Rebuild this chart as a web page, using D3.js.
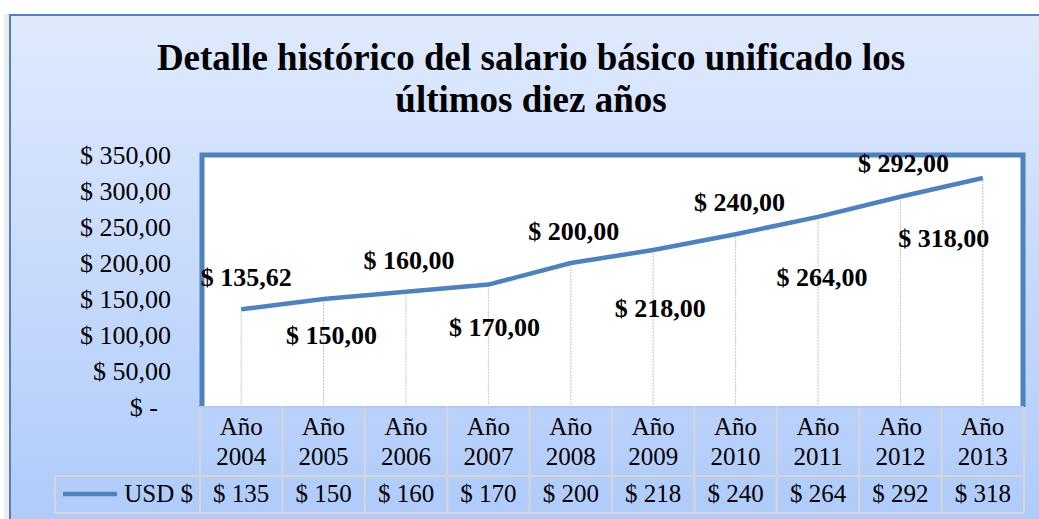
<!DOCTYPE html>
<html>
<head>
<meta charset="utf-8">
<script src="https://cdn.jsdelivr.net/npm/d3@7"></script>
<style>
  body { margin: 0; background: #fff; }
  svg { display: block; font-family: "Liberation Serif", "Times New Roman", serif; }
</style>
</head>
<body>
<script>
  var width = 1039;
  var height = 519;

  // chart data
  var years = ["2004", "2005", "2006", "2007", "2008", "2009", "2010", "2011", "2012", "2013"];
  var salary = [135.62, 150, 160, 170, 200, 218, 240, 264, 292, 318];
  var tableValues = ["$ 135", "$ 150", "$ 160", "$ 170", "$ 200", "$ 218", "$ 240", "$ 264", "$ 292", "$ 318"];
  var yTicks = [0, 50, 100, 150, 200, 250, 300, 350];
  var seriesName = "USD $";
  var titleLines = ["Detalle histórico del salario básico unificado los", "últimos diez años"];

  // hand placed data labels (offset from the point, px)
  var labelDx = [5, 8, 3, 6, 3, 7, 4, 4, 3, -39];
  var labelDy = [-32, 36, -32, 42, -32, 58, -32, 60, -34, 60];

  var blue = "#4f81bd";
  var grid = "#d6d6d6";

  var svg = d3.select("body").append("svg")
    .attr("width", width)
    .attr("height", height);

  var defs = svg.append("defs");
  var grad = defs.append("linearGradient")
    .attr("id", "bg")
    .attr("x1", 0).attr("y1", 0).attr("x2", 0).attr("y2", 1);
  grad.append("stop").attr("offset", "0%").attr("stop-color", "#e0eafd");
  grad.append("stop").attr("offset", "100%").attr("stop-color", "#aecafa");

  // soft shadow on the left of the frame
  svg.append("rect")
    .attr("x", 4).attr("y", 14).attr("width", 6).attr("height", height)
    .attr("fill", "#ececec");

  // outer chart frame
  svg.append("rect")
    .attr("x", 10).attr("y", 15)
    .attr("width", width + 20).attr("height", height)
    .attr("fill", "url(#bg)")
    .attr("stroke", blue)
    .attr("stroke-width", 2);

  // title
  svg.append("text")
    .attr("x", 531)
    .attr("y", 70)
    .attr("text-anchor", "middle")
    .attr("font-family", "Liberation Serif, serif")
    .attr("font-size", 37)
    .attr("font-weight", "bold")
    .selectAll("tspan")
    .data(titleLines)
    .enter()
    .append("tspan")
    .attr("x", 531)
    .attr("dy", function(d, i){ return i === 0 ? 0 : 42; })
    .text(function(d){ return d; });

  var plotLeft = 200, plotRight = 1024, plotTop = 155, plotBottom = 407;

  var x = d3.scaleBand()
    .domain(years)
    .range([plotLeft, plotRight]);

  var y = d3.scaleLinear()
    .domain([0, 350])
    .range([plotBottom, plotTop]);

  // plot area
  svg.append("rect")
    .attr("x", plotLeft + 2).attr("y", plotTop)
    .attr("width", plotRight - plotLeft - 2).attr("height", plotBottom - plotTop)
    .attr("fill", "#fff");

  svg.append("path")
    .attr("d", "M" + (plotLeft + 2) + "," + plotBottom + "V" + plotTop + "H" + (plotRight - 1) + "V" + plotBottom)
    .attr("fill", "none")
    .attr("stroke", blue)
    .attr("stroke-width", 5);

  // y axis
  var yAxis = d3.axisLeft(y)
    .tickValues(yTicks)
    .tickSize(0)
    .tickPadding(29)
    .tickFormat(function(d){
      return d === 0 ? "$ -\u00a0\u00a0" : "$ " + d3.format(".2f")(d).replace(".", ",");
    });

  var ya = svg.append("g")
    .attr("transform", "translate(" + plotLeft + ",0)")
    .call(yAxis);
  ya.select(".domain").remove();
  ya.selectAll("text")
    .attr("font-family", "Liberation Serif, serif")
    .attr("font-size", 26)
    .attr("fill", "#000");

  var pts = years.map(function(yr, i){
    return { year: yr, v: salary[i], cx: x(yr) + x.bandwidth() / 2, cy: y(salary[i]) };
  });

  // drop lines
  svg.append("g").selectAll("line")
    .data(pts)
    .enter()
    .append("line")
    .attr("x1", function(d){ return d.cx; })
    .attr("x2", function(d){ return d.cx; })
    .attr("y1", function(d){ return d.cy; })
    .attr("y2", plotBottom - 2)
    .attr("stroke", "#c4c4c4")
    .attr("stroke-width", 1)
    .attr("stroke-dasharray", "2,1");

  var lineFunction = d3.line()
    .x(function(d){ return d.cx; })
    .y(function(d){ return d.cy; });

  svg.append("path")
    .attr("d", lineFunction(pts))
    .attr("fill", "none")
    .attr("stroke", blue)
    .attr("stroke-width", 4.5)
    .attr("stroke-linejoin", "round");

  // data labels
  svg.append("g").selectAll("text")
    .data(pts)
    .enter()
    .append("text")
    .attr("x", function(d, i){ return d.cx + labelDx[i]; })
    .attr("y", function(d, i){ return d.cy + labelDy[i]; })
    .attr("dy", "0.35em")
    .attr("text-anchor", "middle")
    .attr("font-size", 26)
    .attr("font-weight", "bold")
    .text(function(d){ return "$ " + d3.format(".2f")(d.v).replace(".", ","); });

  // data table under the axis
  var rowTop = plotBottom, rowMid = 476, rowBottom = 513, legendLeft = 55;
  var table = svg.append("g")
    .attr("stroke", grid)
    .attr("stroke-width", 2)
    .attr("fill", "none");

  table.append("line").attr("x1", plotLeft).attr("x2", plotRight).attr("y1", rowTop).attr("y2", rowTop).attr("stroke", "#b9c9e3");
  table.append("line").attr("x1", legendLeft).attr("x2", plotRight).attr("y1", rowMid).attr("y2", rowMid);
  table.append("line").attr("x1", legendLeft).attr("x2", plotRight).attr("y1", rowBottom).attr("y2", rowBottom);
  table.append("line").attr("x1", legendLeft).attr("x2", legendLeft).attr("y1", rowMid).attr("y2", rowBottom);
  table.selectAll("line.col")
    .data(years.concat(["end"]))
    .enter()
    .append("line")
    .attr("class", "col")
    .attr("x1", function(d, i){ return plotLeft + i * x.bandwidth(); })
    .attr("x2", function(d, i){ return plotLeft + i * x.bandwidth(); })
    .attr("y1", rowTop)
    .attr("y2", rowBottom);

  var cells = svg.append("g")
    .attr("font-size", 25)
    .attr("text-anchor", "middle")
    .attr("fill", "#000");

  cells.selectAll("text.a")
    .data(years)
    .enter()
    .append("text")
    .attr("x", function(d){ return x(d) + x.bandwidth() / 2; })
    .attr("y", 435)
    .text("Año");

  cells.selectAll("text.yr")
    .data(years)
    .enter()
    .append("text")
    .attr("x", function(d){ return x(d) + x.bandwidth() / 2; })
    .attr("y", 465)
    .text(function(d){ return d; });

  cells.selectAll("text.val")
    .data(tableValues)
    .enter()
    .append("text")
    .attr("x", function(d, i){ return x(years[i]) + x.bandwidth() / 2; })
    .attr("y", 502)
    .text(function(d){ return d; });

  // legend key
  svg.append("line")
    .attr("x1", 63).attr("x2", 117)
    .attr("y1", 494).attr("y2", 494)
    .attr("stroke", blue)
    .attr("stroke-width", 4.5);

  svg.append("text")
    .attr("x", 193)
    .attr("y", 502)
    .attr("text-anchor", "end")
    .attr("font-size", 25)
    .text(seriesName);
</script>
</body>
</html>
